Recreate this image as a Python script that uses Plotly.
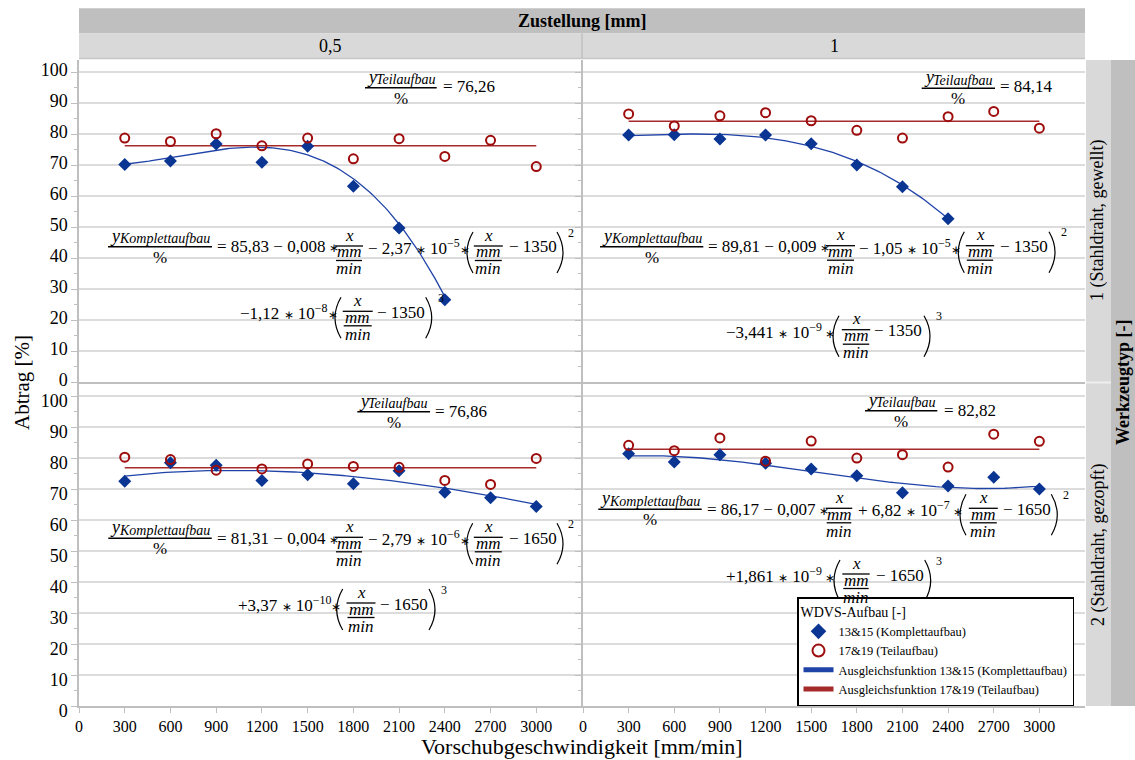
import numpy as np
import plotly.graph_objects as go

W, H = 1135, 760
MF = "Liberation Serif"

# ---------------- data ----------------
speeds = [300, 600, 900, 1200, 1500, 1800, 2100, 2400, 2700, 3000]
x_ticks = [0, 300, 600, 900, 1200, 1500, 1800, 2100, 2400, 2700, 3000]
x_ticktext = ["0", "300", "600", "900", "1200", "1500", "1800", "2100", "2400", "2700", "3000"]
y_ticks = [0, 10, 20, 30, 40, 50, 60, 70, 80, 90, 100]

# Werkzeugtyp 1 (gewellt), Zustellung 0,5
komplett_w1_z05 = [70.2, 71.3, 76.8, 70.9, 76.1, 63.2, 49.7, 26.5]
teil_w1_z05 = [78.7, 77.6, 80.1, 76.2, 78.7, 72.0, 78.5, 72.8, 78.0, 69.5]
# Werkzeugtyp 1 (gewellt), Zustellung 1
komplett_w1_z1 = [79.7, 79.8, 78.4, 79.7, 76.9, 70.0, 63.0, 52.7]
teil_w1_z1 = [86.5, 82.6, 85.9, 86.9, 84.3, 81.2, 78.7, 85.6, 87.3, 81.9]
# Werkzeugtyp 2 (gezopft), Zustellung 0,5
komplett_w2_z05 = [72.5, 78.5, 77.7, 72.8, 74.6, 71.7, 75.9, 69.0, 67.2, 64.4]
teil_w2_z05 = [80.3, 79.5, 76.1, 76.5, 78.1, 77.3, 77.0, 72.8, 71.5, 79.9]
# Werkzeugtyp 2 (gezopft), Zustellung 1
komplett_w2_z1 = [81.4, 78.7, 81.1, 78.3, 76.5, 74.3, 68.8, 71.0, 73.8, 70.0]
teil_w2_z1 = [84.1, 82.4, 86.5, 79.0, 85.5, 80.0, 81.1, 77.1, 87.7, 85.4]

# fit functions printed in the chart: y = a + b*x + c*(x-x0)^2 + d*(x-x0)^3
fit_w1_z05 = [85.83, -0.008, -2.37e-5, -1.12e-8, 1350]
fit_w1_z1 = [89.81, -0.009, -1.05e-5, -3.441e-9, 1350]
fit_w2_z05 = [81.31, -0.004, -2.79e-6, 3.37e-10, 1650]
fit_w2_z1 = [86.17, -0.007, 6.82e-7, 1.861e-9, 1650]
teil_mean = [76.26, 84.14, 76.86, 82.82]

BLUE = "#0B3593"
BLUE_L = "#2043A8"
RED = "#9E0C0C"
RED_L = "#A52A2A"


def fit_curve(c, x_end):
    xs = np.linspace(300, x_end, 120)
    a, b, c2, d, x0 = c
    return xs, a + b * xs + c2 * (xs - x0) ** 2 + d * (xs - x0) ** 3


panels = [
    ("x", "y", komplett_w1_z05, teil_w1_z05, fit_w1_z05, teil_mean[0]),
    ("x2", "y2", komplett_w1_z1, teil_w1_z1, fit_w1_z1, teil_mean[1]),
    ("x3", "y3", komplett_w2_z05, teil_w2_z05, fit_w2_z05, teil_mean[2]),
    ("x4", "y4", komplett_w2_z1, teil_w2_z1, fit_w2_z1, teil_mean[3]),
]

fig = go.Figure()
for i, (xa, ya, kom, teil, fit, mean) in enumerate(panels):
    first = i == 0
    fx, fy = fit_curve(fit, speeds[len(kom) - 1])
    fig.add_trace(go.Scatter(x=fx, y=fy, mode="lines", xaxis=xa, yaxis=ya,
                             line=dict(color=BLUE_L, width=1.3),
                             name="Ausgleichsfunktion 13&15 (Komplettaufbau)",
                             showlegend=first, legendrank=3))
    fig.add_trace(go.Scatter(x=[speeds[0], speeds[-1]], y=[mean, mean], mode="lines",
                             xaxis=xa, yaxis=ya, line=dict(color=RED_L, width=1.5),
                             name="Ausgleichsfunktion 17&19 (Teilaufbau)",
                             showlegend=first, legendrank=4))
    fig.add_trace(go.Scatter(x=speeds[:len(kom)], y=kom, mode="markers", xaxis=xa, yaxis=ya,
                             marker=dict(symbol="diamond", size=10, color=BLUE),
                             name="13&15 (Komplettaufbau)", showlegend=first, legendrank=1))
    fig.add_trace(go.Scatter(x=speeds, y=teil, mode="markers", xaxis=xa, yaxis=ya,
                             marker=dict(symbol="circle-open", size=9, color=RED,
                                         line=dict(width=2, color=RED)),
                             name="17&19 (Teilaufbau)", showlegend=first, legendrank=2))

# ---------------- geometry helpers (pixels -> paper) ----------------
def px(x):
    return x / W


def py(y):
    return 1 - y / H


ann = []
shapes = []
AST = '<span style="font-size:12px">∗</span>'
TS = "\u2009"  # thin space


def T(x, y, s, size=17, xa="left", color="black", angle=0, family=MF):
    ann.append(dict(x=px(x), y=py(y), xref="paper", yref="paper", text=s, showarrow=False,
                    xanchor=xa, yanchor="middle", textangle=angle, borderpad=0,
                    font=dict(family=family, size=size, color=color)))


def L(x0, x1, y, w=1.4, color="black"):
    shapes.append(dict(type="line", xref="paper", yref="paper", x0=px(x0), x1=px(x1),
                       y0=py(y), y1=py(y), line=dict(color=color, width=w)))


def R(x0, x1, y0, y1, fill):
    shapes.append(dict(type="rect", xref="paper", yref="paper", x0=px(x0), x1=px(x1),
                       y0=py(y1), y1=py(y0), fillcolor=fill, line=dict(width=0), layer="below"))


def VL(x, y0, y1, w=1.5, color="#C8C8C8"):
    shapes.append(dict(type="line", xref="paper", yref="paper", x0=px(x), x1=px(x),
                       y0=py(y0), y1=py(y1), line=dict(color=color, width=w)))


def yfrac(x0, x1, ybar, sub):
    L(x0, x1, ybar, 1.6)
    T(x0 + 1, ybar - 11, "<i>y</i>", 18)
    T(x0 + 10, ybar - 8, "<i>" + sub + "</i>", 14)
    T((x0 + x1) / 2, ybar + 10.5, "%", 17, "center")


def xfrac(cx, hw, yc):
    T(cx, yc - 12, "<i>x</i>", 17, "center")
    L(cx - hw, cx + hw, yc - 1, 1.3)
    T(cx, yc + 5, "<i>mm</i>", 17, "center")
    L(cx - hw + 1, cx + hw - 1, yc + 13.5, 1.3)
    T(cx, yc + 22, "<i>min</i>", 17, "center")


def paren(x, y0, y1, left=True):
    w = 6
    xe = x + w if left else x - w
    xc = 2 * x - xe
    ym = (y0 + y1) / 2
    shapes.append(dict(type="path", xref="paper", yref="paper",
                       path=f"M {px(xe)},{py(y0)} Q {px(xc)},{py(ym)} {px(xe)},{py(y1)}",
                       line=dict(color="black", width=1.2)))


def row(yc, lead_x, lead, cx, hw, minus_x, shift, rp_x, pow_x, power, lp_x):
    T(lead_x, yc, lead)
    paren(lp_x, yc - 15, yc + 26, True)
    xfrac(cx, hw, yc)
    T(minus_x, yc, "− " + shift)
    paren(rp_x, yc - 15, yc + 26, False)
    T(pow_x, yc - 14.5, power, 12)


# ---- Top left ----
yfrac(365, 436.7, 87.7, "Teilaufbau"); T(441.7, 86.7, "= 76,26")
yfrac(108, 212, 246.7, "Komplettaufbau")
T(215.5, 247, "= 85,83 − 0,008" + TS + AST)
xfrac(349, 14, 247)
row(247, 367, "− 2,37 " + AST + " 10<sup>−5</sup>" + AST, 488.3, 14.5, 508.3, "1350", 563, 566.7, "2", 467)
row(312.3, 239.3, "−1,12 " + AST + " 10<sup>−8</sup>" + AST, 357.7, 15, 376, "1350", 431.7, 436.7, "3", 335)
# ---- Top right ----
yfrac(921.7, 995, 88.3, "Teilaufbau"); T(999.3, 86.7, "= 84,14")
yfrac(600, 703.3, 246.7, "Komplettaufbau")
T(707, 246.7, "= 89,81 − 0,009" + TS + AST)
xfrac(840.5, 14.5, 246.7)
row(246.7, 858.3, "− 1,05 " + AST + " 10<sup>−5</sup>" + AST, 980, 14.2, 999.3, "1350", 1055, 1060, "2", 958.3)
row(330.7, 725, "−3,441 " + AST + " 10<sup>−9</sup>" + TS + AST, 856, 14.2, 873.3, "1350", 930, 935, "3", 833)
# ---- Bottom left ----
yfrac(357.3, 430, 411.7, "Teilaufbau"); T(434, 411.7, "= 76,86")
yfrac(108.3, 211.7, 538.3, "Komplettaufbau")
T(215.5, 538.3, "= 81,31 − 0,004" + TS + AST)
xfrac(349, 14, 538.3)
row(538.3, 367, "− 2,79 " + AST + " 10<sup>−6</sup>" + AST, 488.3, 14.5, 508.3, "1650", 563, 566.7, "2", 466.7)
row(604, 236.7, "+3,37 " + AST + " 10<sup>−10</sup>" + AST, 361, 14.5, 379.3, "1650", 435, 440, "3", 336.7)
# ---- Bottom right ----
yfrac(865, 937.3, 410.7, "Teilaufbau"); T(942.7, 410.7, "= 82,82")
yfrac(598.3, 701.7, 509.3, "Komplettaufbau")
T(705.5, 509.3, "= 86,17 − 0,007" + TS + AST)
xfrac(839, 13.3, 509.3)
row(509.3, 856.7, "+ 6,82 " + AST + " 10<sup>−7</sup>" + TS + AST, 983.3, 14.5, 1001.7, "1650", 1057.3, 1062.3, "2", 960)
row(575, 725, "+1,861 " + AST + " 10<sup>−9</sup>" + TS + AST, 856, 13.7, 875, "1650", 930.7, 935, "3", 834)

# ---------------- header strips ----------------
R(79, 1085, 8.3, 33.3, "#BFBFBF")
R(79, 1085, 33.3, 58.5, "#D9D9D9")
VL(582, 33.3, 58.5, 2, "#C6C6C6")
L(79, 1085, 58.5, 1.5, "#C6C6C6")
R(1086, 1111, 60, 706, "#D9D9D9")
R(1111, 1135, 60, 706, "#BFBFBF")
L(1086, 1111, 382.5, 2, "#EFEFEF")
T(582, 21, "<b>Zustellung [mm]</b>", 18, "center")
T(330, 46, "0,5", 18, "center")
T(834, 46, "1", 18, "center")
T(1098, 221, "1 (Stahldraht, gewellt)", 18, "center", angle=-90)
T(1098, 545, "2 (Stahldraht, gezopft)", 18, "center", angle=-90)
T(1123, 383, "<b>Werkzeugtyp [-]</b>", 18, "center", angle=-90)
T(22, 383, "Abtrag [%]", 21, "center", angle=-90)
T(582, 746, "Vorschubgeschwindigkeit [mm/min]", 22, "center")

# ---------------- axes ----------------
xl = [px(79), px(582)]
xr = [px(583), px(1085)]
yt = [py(382), py(60)]
yb = [py(706), py(384)]


def xaxis(dom, anchor, labels):
    return dict(domain=dom, anchor=anchor, range=[0, 3300], tickvals=x_ticks, ticktext=x_ticktext,
                showticklabels=labels, ticks="outside" if labels else "", ticklen=5,
                tickcolor="#BFBFBF", showgrid=False, zeroline=False, showline=True,
                linecolor="#BFBFBF", linewidth=1.5, automargin=False,
                tickfont=dict(family=MF, size=16, color="black"), fixedrange=True)


def yaxis(dom, anchor, labels, shift=0):
    return dict(domain=dom, anchor=anchor, range=[0, 103.9], tickvals=y_ticks,
                showticklabels=labels, ticks="outside", ticklen=6, tickcolor="#BFBFBF",
                minor=dict(dtick=5, tick0=0, ticks="outside", ticklen=3, tickcolor="#BFBFBF",
                           showgrid=False),
                showgrid=True, gridcolor="#DCDCDC", gridwidth=1.5, zeroline=False,
                showline=True, linecolor="#BFBFBF", linewidth=1.5, ticklabelshift=shift,
                automargin=False,
                tickfont=dict(family=MF, size=18, color="black"), fixedrange=True)


fig.update_layout(
    width=W, height=H, autosize=False,
    margin=dict(l=0, r=0, t=0, b=0, pad=0, autoexpand=False),
    paper_bgcolor="white", plot_bgcolor="white",
    font=dict(family=MF, color="black"),
    xaxis=xaxis(xl, "y", False), yaxis=yaxis(yt, "x", True, -2),
    xaxis2=xaxis(xr, "y2", False), yaxis2=yaxis(yt, "x2", False),
    xaxis3=xaxis(xl, "y3", True), yaxis3=yaxis(yb, "x3", True, 5),
    xaxis4=xaxis(xr, "y4", True), yaxis4=yaxis(yb, "x4", False),
    annotations=ann, shapes=shapes,
    legend=dict(x=px(797), y=py(706), xanchor="left", yanchor="bottom",
                bgcolor="white", bordercolor="black", borderwidth=1.5,
                font=dict(family=MF, size=12.5, color="black"),
                title=dict(text="WDVS-Aufbau [-]", font=dict(family=MF, size=14)),
                itemsizing="constant", tracegroupgap=0),
    showlegend=True,
)

fig.write_html("out.html", config={"displayModeBar": False},
               post_script="document.body.style.margin='0px';")
